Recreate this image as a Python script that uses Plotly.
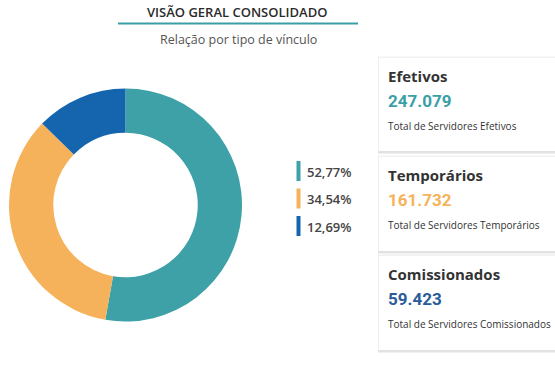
import plotly.graph_objects as go

W, H = 555, 366

categories = ["Efetivos", "Temporários", "Comissionados"]
values = [247079, 161732, 59423]
pie_colors = ["#3da1a7", "#f6b25a", "#1565ae"]
number_colors = ["#3aa0a6", "#f5b35b", "#2a5c9b"]
subtitles = ["Total de Servidores Efetivos", "Total de Servidores Temporários",
             "Total de Servidores Comissionados"]


def px(x):
    return x / W


def py(y):
    return 1 - y / H


def fmt_int(v):
    return f"{v:,}".replace(",", ".")


def fmt_pct(p):
    return f"{p:.2f}".replace(".", ",") + "%"


total = sum(values)
pcts = [v / total * 100 for v in values]

fig = go.Figure()
fig.add_trace(go.Pie(
    labels=categories, values=values, hole=0.62, sort=False,
    direction="clockwise", rotation=0,
    marker=dict(colors=pie_colors, line=dict(width=0)),
    textinfo="none", hoverinfo="label+value+percent",
    domain=dict(x=[px(9), px(242)], y=[py(322), py(88)]),
    showlegend=False,
))

shapes = []
annotations = []

# title & underline
annotations.append(dict(text="VISÃO GERAL CONSOLIDADO", x=px(237), y=py(12), xref="paper", yref="paper",
                        showarrow=False, xanchor="center", yanchor="middle",
                        font=dict(family="Open Sans", size=13, color="#2b2b2b", weight=600)))
shapes.append(dict(type="line", xref="paper", yref="paper", x0=px(118), x1=px(358), y0=py(23.5), y1=py(23.5),
                   line=dict(color="#3a9ea5", width=2)))
annotations.append(dict(text="Relação por tipo de vínculo", x=px(238), y=py(39), xref="paper", yref="paper",
                        showarrow=False, xanchor="center", yanchor="middle",
                        font=dict(family="Open Sans", size=12.5, color="#555555")))

# legend
leg_y = [171, 198.5, 226]
for i, p in enumerate(pcts):
    shapes.append(dict(type="rect", xref="paper", yref="paper", x0=px(296.5), x1=px(300.5),
                       y0=py(leg_y[i] + 10), y1=py(leg_y[i] - 10),
                       fillcolor=pie_colors[i], line=dict(width=0)))
    annotations.append(dict(text=fmt_pct(p), x=px(305), y=py(leg_y[i] + 0.5), xref="paper", yref="paper",
                            showarrow=False, xanchor="left", yanchor="middle",
                            font=dict(family="Open Sans", size=13, color="#444444", weight=600)))

# cards
card_tops = [57, 156, 255]
card_bottoms = [151, 251, 350]
for i in range(3):
    t, b = card_tops[i], card_bottoms[i]
    shapes.append(dict(type="rect", xref="paper", yref="paper", x0=px(378), x1=px(556),
                       y0=py(b + 2.5), y1=py(t), fillcolor="#e2e2e2", line=dict(width=0), layer="below"))
    shapes.append(dict(type="rect", xref="paper", yref="paper", x0=px(378.6), x1=px(556),
                       y0=py(b), y1=py(t + 0.6), fillcolor="#ffffff", line=dict(width=0), layer="below"))
    shapes.append(dict(type="line", xref="paper", yref="paper", x0=px(378), x1=px(556),
                       y0=py(t), y1=py(t), line=dict(color="#f1f1f1", width=1), layer="below"))
    annotations.append(dict(text=categories[i], x=px(386), y=py(t + 19), xref="paper", yref="paper",
                            showarrow=False, xanchor="left", yanchor="middle",
                            font=dict(family="Open Sans", size=15, color="#333333", weight=700)))
    annotations.append(dict(text=fmt_int(values[i]), x=px(386), y=py(t + 44), xref="paper", yref="paper",
                            showarrow=False, xanchor="left", yanchor="middle",
                            font=dict(family="Roboto", size=17, color=number_colors[i], weight=700)))
    annotations.append(dict(text=subtitles[i], x=px(386), y=py(t + 69), xref="paper", yref="paper",
                            showarrow=False, xanchor="left", yanchor="middle",
                            font=dict(family="Open Sans", size=10, color="#333333")))

fig.update_layout(
    width=W, height=H, margin=dict(l=0, r=0, t=0, b=0),
    paper_bgcolor="white", plot_bgcolor="white",
    shapes=shapes, annotations=annotations,
)

fig.write_html("out.html", config={"displayModeBar": False},
               post_script="document.body.style.margin='0';document.body.style.padding='0';"
                           "document.documentElement.style.overflow='hidden';")
